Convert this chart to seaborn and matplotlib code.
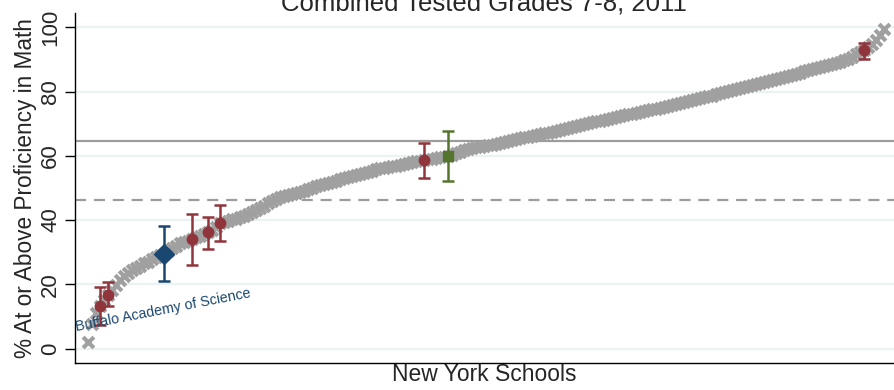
import matplotlib
matplotlib.use("Agg")
import matplotlib.pyplot as plt
import seaborn as sns
import numpy as np
import pandas as pd

# Sorted school proficiency rates (percent at or above proficiency), lowest to highest
school_scores = [
    2.1, 7.5, 11.0, 13.2, 15.0, 16.7, 18.3, 19.7, 21.2, 22.6,
    23.6, 24.5, 25.2, 25.8, 26.5, 27.1, 27.8, 28.5, 29.1, 29.6,
    30.4, 31.2, 32.0, 32.8, 33.2, 33.6, 34.0, 34.6, 35.2, 35.8,
    36.2, 37.0, 37.9, 39.0, 39.4, 39.8, 40.2, 40.5, 40.9, 41.4,
    41.9, 42.4, 43.2, 43.9, 44.5, 45.3, 46.0, 46.7, 47.3, 47.5,
    47.8, 48.1, 48.4, 48.8, 49.2, 49.6, 50.0, 50.5, 50.9, 51.3,
    51.6, 52.0, 52.3, 52.7, 53.0, 53.4, 53.7, 54.1, 54.4, 54.8,
    55.1, 55.4, 55.8, 56.1, 56.3, 56.5, 56.7, 57.0, 57.3, 57.6,
    57.8, 58.1, 58.3, 58.5, 58.7, 58.9, 59.1, 59.3, 59.5, 59.7,
    59.9, 60.3, 60.8, 61.3, 61.8, 62.2, 62.5, 62.7, 62.9, 63.1,
    63.3, 63.5, 63.7, 63.9, 64.2, 64.6, 64.9, 65.2, 65.5, 65.8,
    66.0, 66.3, 66.5, 66.8, 67.0, 67.2, 67.4, 67.7, 68.0, 68.3,
    68.6, 69.0, 69.3, 69.6, 69.9, 70.2, 70.5, 70.8, 71.0, 71.3,
    71.6, 71.8, 72.1, 72.4, 72.6, 72.9, 73.2, 73.4, 73.7, 74.0,
    74.2, 74.5, 74.7, 75.0, 75.3, 75.6, 75.9, 76.2, 76.5, 76.7,
    77.0, 77.3, 77.6, 77.9, 78.2, 78.5, 78.8, 79.2, 79.5, 79.8,
    80.1, 80.5, 80.8, 81.1, 81.4, 81.7, 82.0, 82.3, 82.6, 82.9,
    83.2, 83.6, 83.9, 84.2, 84.5, 84.9, 85.2, 85.6, 85.9, 86.3,
    86.6, 87.0, 87.3, 87.7, 88.0, 88.4, 88.7, 89.0, 89.3, 89.8,
    90.3, 90.9, 91.6, 92.2, 93.0, 93.8, 94.8, 96.0, 97.7, 99.5,
]

# Highlighted schools: rank position, rate, confidence interval
peer_rank = [4, 6, 27, 31, 34, 85, 195]
peer_rate = [13.2, 16.7, 34.0, 36.2, 39.0, 58.7, 93.0]
peer_low = [7.3, 13.2, 25.9, 31.1, 33.5, 53.0, 90.3]
peer_high = [19.1, 20.7, 42.0, 41.0, 44.8, 64.0, 95.2]

focus_rank = [20]
focus_rate = [29.6]
focus_low = [21.1]
focus_high = [38.1]
focus_name = "Buffalo Academy of Science"

district_rank = [91]
district_rate = [59.9]
district_low = [52.1]
district_high = [67.6]

state_avg = 64.7
city_avg = 46.2

yticks = [0, 20, 40, 60, 80, 100]
title = "Combined Tested Grades 7-8, 2011"
xlabel = "New York Schools"
ylabel = "% At or Above Proficiency in Math"

sns.set_theme(style="white")
plt.rcParams["font.family"] = ["Liberation Sans", "DejaVu Sans"]

RED = "#90353b"
NAVY = "#1a476f"
GREEN = "#55752f"
GRAY = "#a0a0a0"

fig = plt.figure(figsize=(8.94, 3.90), dpi=100)
ax = fig.add_axes([75 / 894, 1 - 363 / 390, 1 - 75 / 894, 350 / 390])

for y in yticks:
    ax.axhline(y, color="#eaf2f3", lw=1.6, zorder=0)

df = pd.DataFrame({"rank": np.arange(1, len(school_scores) + 1), "score": school_scores})
sns.scatterplot(data=df, x="rank", y="score", marker="x", s=60, linewidth=3.0,
                color=GRAY, edgecolor=GRAY, ax=ax, zorder=2, legend=False)

ax.axhline(state_avg, color="#9c9c9c", lw=1.6, zorder=1)
ax.axhline(city_avg, color="#9c9c9c", lw=1.6, ls=(0, (5, 3.5)), zorder=1)


def draw_group(ranks, rate, low, high, color, marker, ms):
    rate = np.asarray(rate)
    err = np.vstack([rate - np.asarray(low), np.asarray(high) - rate])
    ax.errorbar(ranks, rate, yerr=err, fmt="none", ecolor=color, elinewidth=1.8,
                capsize=4.2, capthick=1.8, zorder=3)
    ax.plot(ranks, rate, ls="none", marker=marker, ms=ms, color=color,
            mec=color, zorder=4)


draw_group(peer_rank, peer_rate, peer_low, peer_high, RED, "o", 7.5)
draw_group(district_rank, district_rate, district_low, district_high, GREEN, "s", 7.5)
draw_group(focus_rank, focus_rate, focus_low, focus_high, NAVY, "D", 10.5)

ax.text(-2.0, 5.3, focus_name, color=NAVY, fontsize=10.3, rotation=11,
        rotation_mode="anchor", ha="left", va="baseline", zorder=5)

ax.set_xlim(-2.25, 202.5)
ax.set_ylim(-4.5, 104.5)
ax.set_yticks(yticks)
ax.set_xticks([])
ax.tick_params(axis="y", which="major", left=True, length=7, width=1.0,
               color="black", labelsize=16, pad=3)
for lbl in ax.get_yticklabels():
    lbl.set_rotation(90)
    lbl.set_va("center")

for side in ("top", "right"):
    ax.spines[side].set_visible(False)
for side in ("left", "bottom"):
    ax.spines[side].set_color("black")
    ax.spines[side].set_linewidth(1.0)

ax.set_xlabel(xlabel, fontsize=16.5, labelpad=0)
ax.set_ylabel(ylabel, fontsize=16.3, labelpad=2)
fig.text(484 / 894, 1 - 11 / 390, title, ha="center", va="baseline", fontsize=18.5)

fig.savefig("out.png", dpi=100)
